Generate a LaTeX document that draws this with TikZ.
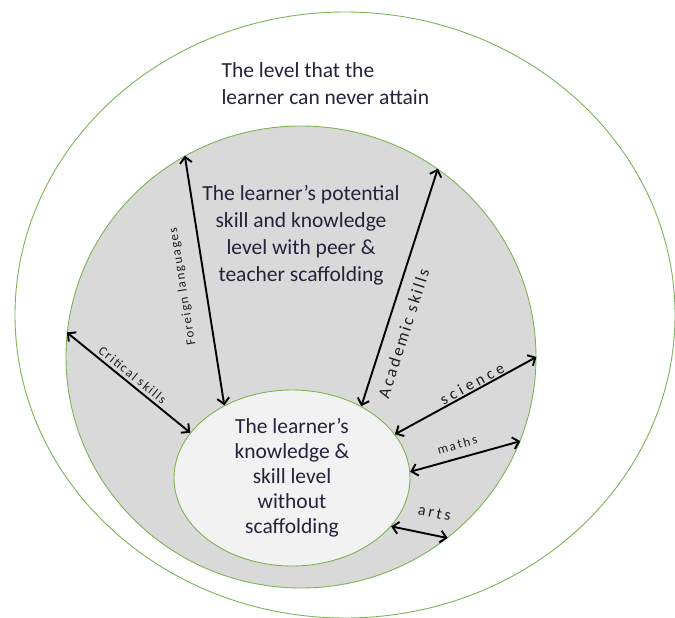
\documentclass[tikz,border=0pt]{standalone}
\usepackage{fontspec}
\setmainfont{Carlito}
\usetikzlibrary{arrows.meta, positioning, shapes.geometric}

\definecolor{ringgreen}{RGB}{125,178,85}
\definecolor{zonegray}{RGB}{217,217,217}
\definecolor{corewhite}{RGB}{242,242,242}
\definecolor{textnavy}{RGB}{35,35,60}
\definecolor{lblgray}{RGB}{30,30,30}

\begin{document}
\begin{tikzpicture}[
>={Straight Barb[length=6pt,width=12pt]},
x=1pt, y=-1pt,
ring/.style={ellipse, draw=ringgreen, line width=0.9pt, inner sep=0pt},
main text/.style={text=textnavy, font=\fontsize{21.5}{27}\selectfont},
link/.style={<->, line width=1.9pt},
lbl/.style={text=lblgray, sloped, inner sep=1pt},
]
\useasboundingbox (0,0) rectangle (675,618);

%% rings
% nodes
\node[ring, minimum width=660pt, minimum height=606pt] (never) at (345,315) {};
\node[ring, fill=zonegray, minimum width=470pt, minimum height=462pt] (zpd) at (301,357) {};
\node[ring, fill=corewhite, minimum width=236pt, minimum height=176pt,
  main text, align=center, font=\fontsize{21.5}{25}\selectfont] (core) at (292,478)
  {The learner’s\\knowledge \&\\skill level\\without\\scaffolding};

%% texts
\node[main text, align=left, anchor=west] (nevertext) at (218,84)
  {The level that the\\learner can never attain};
\node[main text, align=center] (zpdtext) at (301,235)
  {The learner’s potential\\skill and knowledge\\level with peer \&\\teacher scaffolding};

%% arrows
\draw[link] (core.133.3) -- node[lbl, allow upside down, pos=.49, above=15pt,
  font=\fontsize{13}{13}\selectfont\addfontfeatures{LetterSpace=12}] {Foreign languages} (zpd.120.5);
\draw[link] (zpd.174) -- node[lbl, pos=.49, above=2pt,
  font=\fontsize{13}{13}\selectfont\addfontfeatures{LetterSpace=12}] {Critical skills} (core.156.8);
\draw[link] (core.46.6) -- node[lbl, pos=.33, below=10pt,
  font=\fontsize{17}{17}\selectfont\addfontfeatures{LetterSpace=14}] {Academic skills} (zpd.54.1);
\draw[link] (core.23.5) -- node[lbl, pos=.57, above,
  font=\fontsize{16}{16}\selectfont\addfontfeatures{LetterSpace=24}] {science} (zpd.0);
\draw[link] (core.3) -- node[lbl, pos=.46, above=7pt,
  font=\fontsize{13}{13}\selectfont\addfontfeatures{LetterSpace=15}] {maths} (zpd.-21.3);
\draw[link] (core.-26.6) -- node[lbl, pos=.69, above=15pt,
  font=\fontsize{16}{16}\selectfont\addfontfeatures{LetterSpace=17}] {arts} (zpd.-51.5);
\end{tikzpicture}
\end{document}
